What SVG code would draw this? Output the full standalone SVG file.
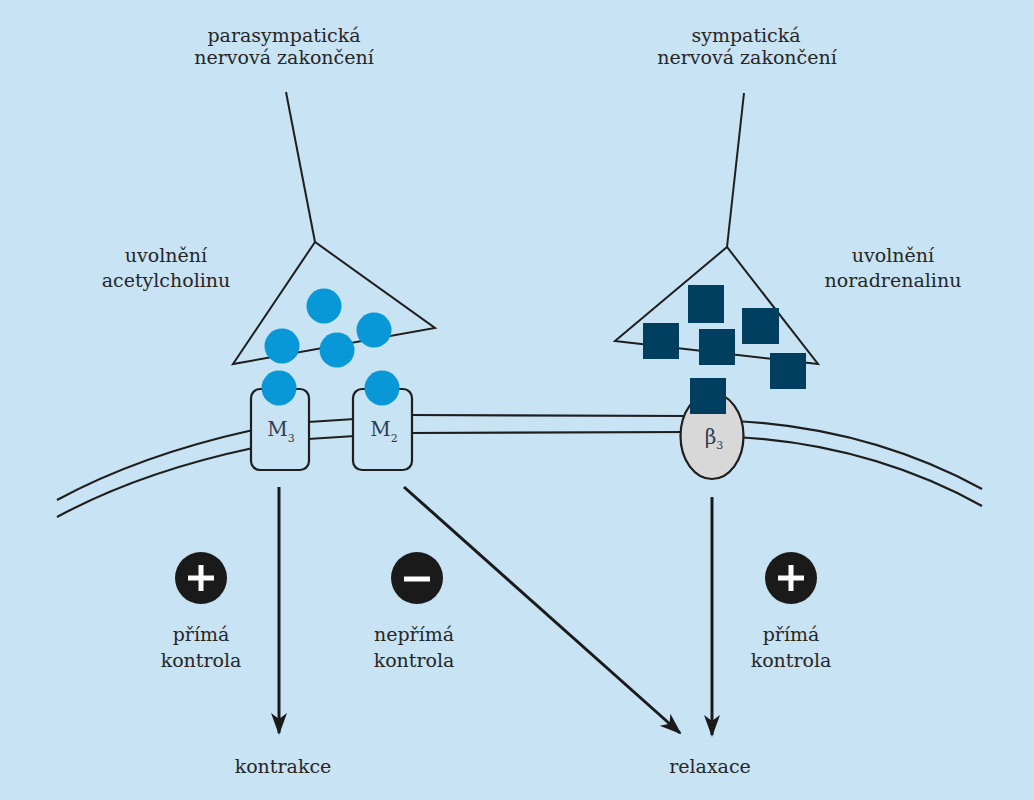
<svg xmlns="http://www.w3.org/2000/svg" width="1034" height="800" viewBox="0 0 1034 800">
  <defs>
    <style>
      .bg { fill: #c8e3f4; }
      .line { fill: none; stroke: #1e1e1e; stroke-width: 2; stroke-linejoin: miter; }
      .mem { fill: none; stroke: #1e1e1e; stroke-width: 2.2; }
      .box { fill: #c8e3f4; stroke: #1e1e1e; stroke-width: 2.2; }
      .ach { fill: #0898d8; }
      .na { fill: #003f60; }
      .arrow { fill: none; stroke: #1a1a1a; stroke-width: 3; }
      .sign { fill: #1a1a1a; }
      .glyph { stroke: #ffffff; stroke-width: 5; fill: none; }
      text { font-family: "DejaVu Serif", "Liberation Serif", serif; font-size: 19px; fill: #262626; text-anchor: middle; }
      .rlab { font-size: 20px; fill: #2e3a50; }
      .sub { font-size: 11px; }
    </style>
    <marker id="ah" markerUnits="userSpaceOnUse" markerWidth="22" markerHeight="20" viewBox="0 0 22 20" refX="20" refY="10" orient="auto">
      <path d="M0,2 L22,10 L0,18 L6,10 Z" fill="#1a1a1a"/>
    </marker>
  </defs>

  <rect class="bg" x="0" y="0" width="1034" height="800"/>

  <g id="membrane">
    <path class="mem" d="M57,500 Q140,455 253,430"/>
    <path class="mem" d="M57,517 Q140,472 253,448"/>
    <path class="mem" d="M308,422 L355,419"/>
    <path class="mem" d="M308,439 L355,436"/>
    <path class="mem" d="M410,415 L690,416"/>
    <path class="mem" d="M410,433 L690,432"/>
    <path class="mem" d="M735,421 Q870,428 982,489"/>
    <path class="mem" d="M735,437 Q870,444 982,506"/>
  </g>

  <g id="parasympathetic-terminal">
    <path class="line" d="M286,92 L315,242"/>
    <path class="line" d="M315,242 L233,364 L435,328 Z"/>
  </g>

  <g id="sympathetic-terminal">
    <path class="line" d="M744,93 L727,247"/>
    <path class="line" d="M727,247 L615,341 L818,364 Z"/>
  </g>

  <g id="receptor-m3">
    <rect class="box" x="251" y="389" width="58" height="81" rx="9"/>
    <text class="rlab" x="281" y="436">M<tspan class="sub" dy="6">3</tspan></text>
  </g>

  <g id="receptor-m2">
    <rect class="box" x="353" y="389" width="59" height="81" rx="9"/>
    <text class="rlab" x="384" y="436">M<tspan class="sub" dy="6">2</tspan></text>
  </g>

  <g id="receptor-b3">
    <ellipse cx="712" cy="436" rx="31.5" ry="43" fill="#d8d8d8" stroke="#1e1e1e" stroke-width="2.2"/>
    <text class="rlab" x="714" y="444">β<tspan class="sub" dy="5">3</tspan></text>
  </g>

  <g id="acetylcholine">
    <circle class="ach" cx="324" cy="306" r="17.5"/>
    <circle class="ach" cx="282" cy="346" r="17.5"/>
    <circle class="ach" cx="337" cy="350" r="17.5"/>
    <circle class="ach" cx="374" cy="330" r="17.5"/>
    <circle class="ach" cx="279" cy="388" r="17.5"/>
    <circle class="ach" cx="382" cy="388" r="17.5"/>
  </g>

  <g id="noradrenaline">
    <rect class="na" x="688" y="285" width="36" height="38"/>
    <rect class="na" x="643" y="323" width="36" height="36"/>
    <rect class="na" x="699" y="329" width="36" height="36"/>
    <rect class="na" x="742" y="308" width="37" height="36"/>
    <rect class="na" x="770" y="353" width="36" height="36"/>
    <rect class="na" x="690" y="378" width="36" height="36"/>
  </g>

  <g id="connectors">
    <path class="arrow" d="M279,487 L279,733" marker-end="url(#ah)"/>
    <path class="arrow" d="M404,487 L680,733" marker-end="url(#ah)"/>
    <path class="arrow" d="M712,497 L712,735" marker-end="url(#ah)"/>
  </g>

  <g id="sign-plus-left">
    <circle class="sign" cx="201" cy="578" r="26"/>
    <path class="glyph" d="M188,578 H214 M201,565 V591"/>
  </g>
  <g id="sign-minus">
    <circle class="sign" cx="417" cy="578" r="26"/>
    <path class="glyph" d="M404,579 H430" stroke-width="6"/>
  </g>
  <g id="sign-plus-right">
    <circle class="sign" cx="791" cy="578" r="26"/>
    <path class="glyph" d="M778,578 H804 M791,565 V591"/>
  </g>

  <g id="labels">
    <text x="284" y="42">parasympatická</text>
    <text x="284" y="64">nervová zakončení</text>
    <text x="746" y="42">sympatická</text>
    <text x="747" y="64">nervová zakončení</text>
    <text x="166" y="262">uvolnění</text>
    <text x="166" y="287">acetylcholinu</text>
    <text x="893" y="262">uvolnění</text>
    <text x="893" y="287">noradrenalinu</text>
    <text x="201" y="641">přímá</text>
    <text x="201" y="667">kontrola</text>
    <text x="414" y="641">nepřímá</text>
    <text x="414" y="667">kontrola</text>
    <text x="791" y="641">přímá</text>
    <text x="791" y="667">kontrola</text>
    <text x="283" y="773">kontrakce</text>
    <text x="710" y="773">relaxace</text>
  </g>
</svg>
